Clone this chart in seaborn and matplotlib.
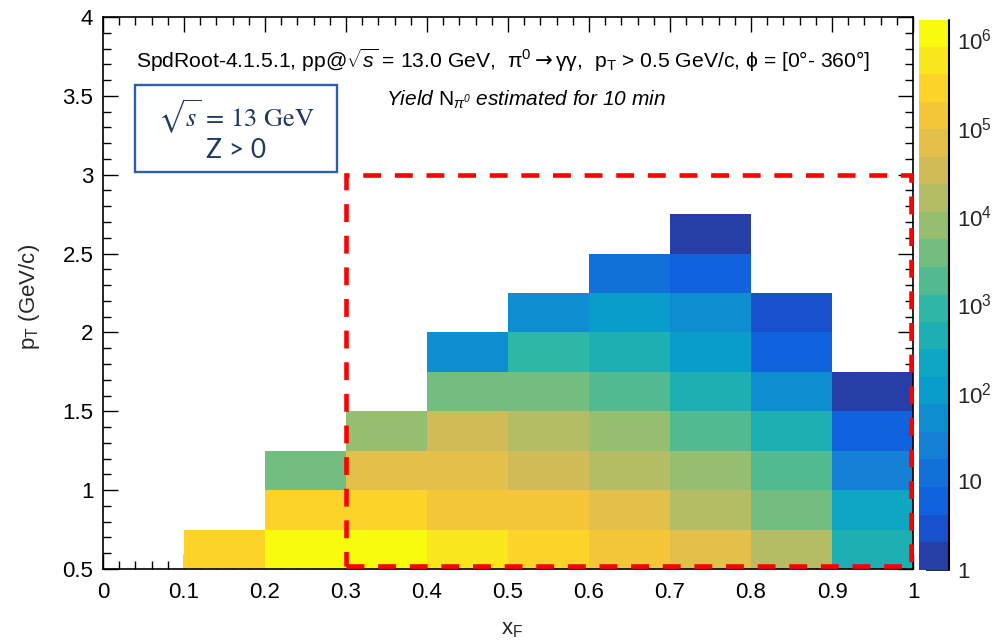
import numpy as np
import pandas as pd
import matplotlib
matplotlib.use("Agg")
import matplotlib.pyplot as plt
from matplotlib.colors import LogNorm, ListedColormap, LinearSegmentedColormap
from matplotlib.patches import Rectangle
from matplotlib.ticker import (MultipleLocator, FixedLocator, FixedFormatter,
                               LogLocator, NullFormatter, FuncFormatter)
import seaborn as sns

# ---- binning -------------------------------------------------------------
xf_centers = [0.05, 0.15, 0.25, 0.35, 0.45, 0.55, 0.65, 0.75, 0.85, 0.95]
pt_centers = [0.625, 0.875, 1.125, 1.375, 1.625, 1.875, 2.125, 2.375, 2.625]

# ---- pi0 yield per (xF, pT) bin, one list per pT row (0 = empty bin) ----
yield_pt_0625 = [0, 2.8e5, 1.18e6, 1.18e6, 5.7e5, 2.8e5, 1.37e5, 6.7e4, 1.6e4, 440]
yield_pt_0875 = [0, 0, 2.8e5, 2.8e5, 1.37e5, 1.37e5, 6.7e4, 1.6e4, 3800, 216]
yield_pt_1125 = [0, 0, 3800, 6.7e4, 6.7e4, 3.3e4, 1.6e4, 7800, 1860, 25]
yield_pt_1375 = [0, 0, 0, 7800, 3.3e4, 1.6e4, 7800, 1860, 440, 6]
yield_pt_1625 = [0, 0, 0, 0, 3800, 3800, 1860, 440, 52, 1.4]
yield_pt_1875 = [0, 0, 0, 0, 52, 900, 440, 105, 6, 0]
yield_pt_2125 = [0, 0, 0, 0, 0, 52, 105, 52, 2.9, 0]
yield_pt_2375 = [0, 0, 0, 0, 0, 0, 12, 6, 0, 0]
yield_pt_2625 = [0, 0, 0, 0, 0, 0, 0, 1.4, 0, 0]

yield_rows = [yield_pt_0625, yield_pt_0875, yield_pt_1125, yield_pt_1375,
              yield_pt_1625, yield_pt_1875, yield_pt_2125, yield_pt_2375,
              yield_pt_2625]

x_ticks = [0, 0.1, 0.2, 0.3, 0.4, 0.5, 0.6, 0.7, 0.8, 0.9, 1.0]
y_ticks = [0.5, 1.0, 1.5, 2.0, 2.5, 3.0, 3.5, 4.0]
z_ticks = [1, 10, 1e2, 1e3, 1e4, 1e5, 1e6]
z_labels = ["1", "10", r"10$^{2}$", r"10$^{3}$", r"10$^{4}$", r"10$^{5}$", r"10$^{6}$"]
z_min, z_max = 1.0, 1.68e6

records = []
for pt, row in zip(pt_centers, yield_rows):
    for xf, val in zip(xf_centers, row):
        if val > 0:
            records.append({"xF": xf, "pT": pt, "N": val})
df = pd.DataFrame(records)

# ---- style ---------------------------------------------------------------
sns.set_theme(style="white")
plt.rcParams["font.family"] = ["Liberation Sans", "DejaVu Sans"]
plt.rcParams["mathtext.fontset"] = "custom"
plt.rcParams["mathtext.rm"] = "Liberation Sans"
plt.rcParams["mathtext.it"] = "Liberation Sans:italic"
plt.rcParams["mathtext.bf"] = "Liberation Sans:bold"
plt.rcParams["mathtext.sf"] = "DejaVu Sans"
plt.rcParams["mathtext.default"] = "regular"

# "Bird" gradient palette with 20 discrete contour levels
bird_stops = [0.0, 0.125, 0.25, 0.375, 0.5, 0.625, 0.75, 0.875, 1.0]
bird_r = [0.2082, 0.0592, 0.0780, 0.0232, 0.1802, 0.5301, 0.8186, 0.9956, 0.9764]
bird_g = [0.1664, 0.3599, 0.5041, 0.6419, 0.7178, 0.7492, 0.7328, 0.7862, 0.9832]
bird_b = [0.5293, 0.8684, 0.8385, 0.7914, 0.6425, 0.4662, 0.3499, 0.1968, 0.0539]
bird = LinearSegmentedColormap.from_list(
    "bird", list(zip(bird_stops, zip(bird_r, bird_g, bird_b))), N=255)
n_levels = 20
level_idx = [int((i + 0.99) * 255 / n_levels) for i in range(n_levels)]
cmap = ListedColormap([bird(k) for k in level_idx])
norm = LogNorm(vmin=z_min, vmax=z_max)

W, H = 997, 644
fig = plt.figure(figsize=(W / 100, H / 100), dpi=100)
ax = fig.add_axes([103 / W, 1 - 569 / H, 810 / W, 552 / H])
cax = fig.add_axes([919 / W, 1 - 569.5 / H, 30 / W, 550 / H])

sns.histplot(data=df, x="xF", y="pT", weights="N",
             bins=(10, 14), binrange=((0, 1), (0.5, 4)),
             cmap=cmap, cbar=False, ax=ax)
mesh = ax.collections[0]
mesh.set_norm(norm)
mesh.set_cmap(cmap)
cbar = fig.colorbar(mesh, cax=cax)

ax.set_xlim(0, 1)
ax.set_ylim(0.5, 4)
ax.set_xlabel("")
ax.set_ylabel("")

# axes frame and ticks
for sp in ax.spines.values():
    sp.set_visible(True)
    sp.set_color("black")
    sp.set_linewidth(1.2)
ax.xaxis.set_major_locator(FixedLocator(x_ticks))
ax.xaxis.set_minor_locator(MultipleLocator(0.02))
ax.yaxis.set_major_locator(FixedLocator(y_ticks))
ax.yaxis.set_minor_locator(MultipleLocator(0.1))
fmt = FuncFormatter(lambda v, p: f"{v:g}")
ax.xaxis.set_major_formatter(fmt)
ax.yaxis.set_major_formatter(fmt)
ax.tick_params(which="both", direction="in", top=True, right=True,
               bottom=True, left=True, color="black", width=1.0,
               labelsize=16, labelcolor="black")
ax.tick_params(which="major", length=11)
ax.tick_params(which="minor", length=5.5)
ax.tick_params(axis="x", which="major", pad=9)
ax.tick_params(axis="y", which="major", pad=7)

# colour scale
cbar.outline.set_visible(False)
cax.yaxis.set_major_locator(FixedLocator(z_ticks))
cax.yaxis.set_major_formatter(FixedFormatter(z_labels))
cax.yaxis.set_minor_locator(LogLocator(base=10, subs=np.arange(2, 10)))
cax.yaxis.set_minor_formatter(NullFormatter())
cax.tick_params(axis="y", which="both", direction="in", right=True, left=False,
                color="black", width=1.2, labelsize=16, pad=6)
cax.tick_params(axis="y", which="major", length=16.5)
cax.tick_params(axis="y", which="minor", length=8)
cax.axvline(1.0, color="black", lw=1.5, clip_on=False)

# acceptance region
ax.add_patch(Rectangle((0.3, 0.52), 0.697, 2.48, fill=False, edgecolor="#ff0000",
                       linewidth=3.3, linestyle=(0, (3.9, 3.0)), zorder=6,
                       clip_on=False))

# annotations
fig.text(503 / W, 1 - 60 / H,
         r"SpdRoot-4.1.5.1, pp@$\sqrt{\mathit{s}}$ = 13.0 GeV,  "
         r"$\pi^{0}\mathsf{\rightarrow}\gamma\gamma$,  "
         r"p$_{T}$ > 0.5 GeV/c, ϕ = [0°- 360°]",
         ha="center", va="center", fontsize=15.2, color="black")
fig.text(526 / W, 1 - 100 / H,
         r"Yield $\mathrm{N}_{\pi^{0}}$ estimated for 10 min",
         ha="center", va="center", fontsize=15, style="italic", color="black")

ax.add_patch(Rectangle((32 / 810, (569 - 172) / 552), 202 / 810, 87 / 552,
                       transform=ax.transAxes, fill=True, facecolor="white",
                       edgecolor="#2e60aa", linewidth=1.7, zorder=7))
fig.text(236 / W, 1 - 117 / H, r"$\sqrt{\mathit{s}}$ = 13 GeV", ha="center",
         va="center", fontsize=19, color="#1f3864", family="STIXGeneral",
         math_fontfamily="stix")
fig.text(236 / W, 1 - 151 / H, "Z > 0", ha="center", va="center",
         fontsize=19, color="#1f3864", family="Lato")

fig.text(512 / W, 1 - 630 / H, r"x$_{F}$", ha="center", va="center", fontsize=16)
fig.text(30 / W, 1 - 297 / H, r"p$_{T}$ (GeV/c)", ha="center", va="center",
         fontsize=16, rotation=90)

fig.savefig("out.png", dpi=100, facecolor="white")
